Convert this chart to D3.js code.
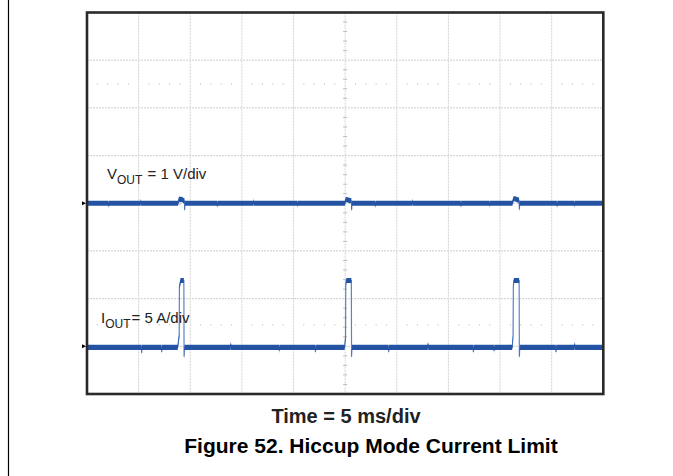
<!doctype html>
<html>
  <head>
    <meta charset="utf-8">
    <script src="https://cdn.jsdelivr.net/npm/d3@7"></script>
    <style>
      body {
        margin: 0;
        background-color: white;
        font-family: Arial, "Liberation Sans", sans-serif;
      }
      svg {
        display: block;
      }
      .label {
        font-size: 15px;
        fill: #222;
      }
      .caption {
        font-weight: bold;
      }
    </style>
  </head>
  <body>
    <svg id="chart"></svg>

  <script>

    const width = 673,
        height = 476
    const plot = { left: 87, top: 12.5, right: 603.3, bottom: 394 }

    // scope settings
    const timeDomain = [0, 50]          // ms, 5 ms/div, 10 div
    const voutDomain = [-4, 4]          // V, 1 V/div, ground at centre
    const ioutDomain = [-5, 35]         // A, 5 A/div, ground one div up
    const cursorV = 2.5
    const cursorI = 2.25

    // VOUT trace [ms, V]
    const voutTrace = [
      [0, 0], [2.10, 0], [2.12, -0.06], [2.14, 0], [5.20, 0], [5.22, 0.05], [5.24, 0],
      [8.82, 0], [8.86, 0.04], [8.90, 0.08], [9.20, 0.08], [9.30, 0.06], [9.44, 0.05],
      [9.46, -0.14], [9.49, 0], [12.6, 0], [12.62, -0.06], [12.64, 0],
      [16.1, 0], [16.12, 0.05], [16.14, 0], [20.4, 0], [20.42, -0.05], [20.44, 0],
      [24.98, 0], [25.02, 0.05], [25.08, 0.08], [25.40, 0.06], [25.60, 0.05],
      [25.63, -0.14], [25.66, 0], [27.9, 0], [27.92, -0.06], [27.94, 0],
      [31.5, 0], [31.52, 0.05], [31.54, 0], [36.2, 0], [36.22, -0.06], [36.24, 0],
      [39.0, 0], [39.02, -0.05], [39.04, 0],
      [41.20, 0], [41.26, 0.06], [41.34, 0.1], [41.60, 0.08], [41.84, 0.06],
      [41.87, -0.13], [41.90, 0], [45.5, 0], [45.52, -0.06], [45.54, 0],
      [47.2, 0], [47.22, -0.05], [47.24, 0], [50, 0]
    ]

    // IOUT trace [ms, A]
    const ioutTrace = [
      [0, -0.12], [5.28, -0.12], [5.30, -0.7], [5.32, -0.12], [7.22, -0.12], [7.24, -0.6], [7.26, -0.12],
      [8.78, -0.12], [8.84, 0.4], [8.90, 0.9], [8.93, 1.1], [8.95, 6.2], [9.00, 6.5],
      [9.06, 6.9], [9.38, 6.9], [9.40, -1.1], [9.44, -0.12],
      [13.9, -0.12], [13.92, 0.3], [13.94, -0.12], [18.6, -0.12], [18.62, -0.5], [18.64, -0.12],
      [22.1, -0.12], [22.12, -0.6], [22.14, -0.12],
      [24.95, -0.12], [25.00, 0.6], [25.04, 0.9], [25.06, 6.5], [25.12, 6.9],
      [25.60, 6.9], [25.62, -1.1], [25.66, -0.12],
      [29.2, -0.12], [29.22, -0.6], [29.24, -0.12], [33.0, -0.12], [33.02, 0.3], [33.04, -0.12],
      [37.4, -0.12], [37.42, -0.6], [37.44, -0.12], [39.4, -0.12], [39.42, -0.5], [39.44, -0.12],
      [41.18, -0.12], [41.22, 0.5], [41.26, 1.0], [41.29, 6.3], [41.34, 6.9],
      [41.85, 6.9], [41.87, -1.1], [41.91, -0.12],
      [45.4, -0.12], [45.42, -0.6], [45.44, -0.12], [47.2, -0.12], [47.22, 0.3], [47.24, -0.12],
      [50, -0.12]
    ]

    const xDivs = d3.range(0, 11)
    const yDivs = d3.range(0, 9)

    const svg = d3.select("#chart")
                .attr("width", width)
                .attr("height", height)

    const x = d3.scaleLinear()
                .domain(timeDomain)
                .range([plot.left, plot.right])

    const yV = d3.scaleLinear()
                .domain(voutDomain)
                .range([plot.bottom, plot.top])

    const yI = d3.scaleLinear()
                .domain(ioutDomain)
                .range([plot.bottom, plot.top])

    const yDiv = d3.scaleLinear()
                .domain([0, 8])
                .range([plot.bottom, plot.top])

    // page border on the left
    svg.append("line")
        .attr("x1", 8.5).attr("x2", 8.5)
        .attr("y1", 0).attr("y2", height)
        .attr("stroke", "black")
        .attr("stroke-width", 1.2)

    // graticule
    const grid = svg.append("g").attr("class", "grid")

    grid.selectAll(".vgrid")
      .data(xDivs.slice(1, -1))
      .enter().append("line")
        .attr("x1", (d) => x(d * 5)).attr("x2", (d) => x(d * 5))
        .attr("y1", plot.top).attr("y2", plot.bottom)
        .attr("stroke", "#d2d2d2")
        .attr("stroke-dasharray", "2,1")

    grid.selectAll(".hgrid")
      .data(yDivs.slice(1, -1))
      .enter().append("line")
        .attr("x1", plot.left).attr("x2", plot.right)
        .attr("y1", (d) => yDiv(d)).attr("y2", (d) => yDiv(d))
        .attr("stroke", "#d6d6d6")
        .attr("stroke-width", 1.3)
        .attr("stroke-dasharray", "2,1")

    // minor ticks on centre lines
    const minorX = d3.range(1, 50).filter((d) => d % 5 != 0)
    const minorY = d3.range(1, 40).filter((d) => d % 5 != 0).map((d) => d / 5)

    grid.selectAll(".tickx")
      .data(minorX)
      .enter().append("line")
        .attr("x1", (d) => x(d)).attr("x2", (d) => x(d))
        .attr("y1", yDiv(4) - 2).attr("y2", yDiv(4) + 2)
        .attr("stroke", "#bdbdbd")

    grid.selectAll(".ticky")
      .data(minorY)
      .enter().append("line")
        .attr("x1", x(25) - 2).attr("x2", x(25) + 2)
        .attr("y1", (d) => yDiv(d)).attr("y2", (d) => yDiv(d))
        .attr("stroke", "#bdbdbd")

    // cursor dots
    const cursors = [yV(cursorV), yI(cursorI)]
    cursors.forEach(function(cy) {
      grid.selectAll(null)
        .data(minorX)
        .enter().append("rect")
          .attr("x", (d) => x(d) - 0.5)
          .attr("y", cy - 0.5)
          .attr("width", 1)
          .attr("height", 1)
          .attr("fill", "#b0b0b0")
    })

    // traces: thin line under a noise band
    function drawTrace(data, yScale) {
      const g = svg.append("g")
      g.append("path")
        .datum(data)
        .attr("fill", "none")
        .attr("stroke", "#5a86c8")
        .attr("stroke-width", 1.2)
        .attr("d", d3.line()
          .x((d) => x(d[0]))
          .y((d) => yScale(d[1])))
      g.append("path")
        .datum(data)
        .attr("fill", "#2453a3")
        .attr("d", d3.area()
          .x((d) => x(d[0]))
          .y0((d) => yScale(d[1]) + 2.6)
          .y1((d) => yScale(d[1]) - 2.6))
    }

    drawTrace(voutTrace, yV)
    drawTrace(ioutTrace, yI)

    // frame
    svg.append("rect")
        .attr("x", plot.left)
        .attr("y", plot.top)
        .attr("width", plot.right - plot.left)
        .attr("height", plot.bottom - plot.top)
        .attr("fill", "none")
        .attr("stroke", "#2a2a2a")
        .attr("stroke-width", 2.6)

    // ground markers
    const markers = [yV(0), yI(0)]
    svg.selectAll(".marker")
      .data(markers)
      .enter().append("path")
        .attr("d", (d) => "M82," + (d - 2) + "L86," + d + "L82," + (d + 2) + "Z")
        .attr("fill", "black")

    // channel labels
    function channelLabel(px, py, main, rest) {
      const t = svg.append("text")
          .attr("class", "label")
          .attr("x", px)
          .attr("y", py)
      t.append("tspan").text(main)
      t.append("tspan").attr("dy", 5).attr("font-size", "12px").text("OUT")
      t.append("tspan").attr("dy", -5).attr("dx", 1).text(rest)
    }

    channelLabel(107, 179, "V", " = 1 V/div")
    channelLabel(101, 323, "I", "= 5 A/div")

    svg.append("text")
        .attr("class", "caption")
        .attr("x", 346)
        .attr("y", 423)
        .attr("text-anchor", "middle")
        .attr("font-size", "20px")
        .attr("fill", "#222")
        .text("Time = 5 ms/div")

    svg.append("text")
        .attr("class", "caption")
        .attr("x", 371)
        .attr("y", 453)
        .attr("text-anchor", "middle")
        .attr("font-size", "21px")
        .attr("fill", "black")
        .text("Figure 52. Hiccup Mode Current Limit")

  </script>
  </body>
</html>
